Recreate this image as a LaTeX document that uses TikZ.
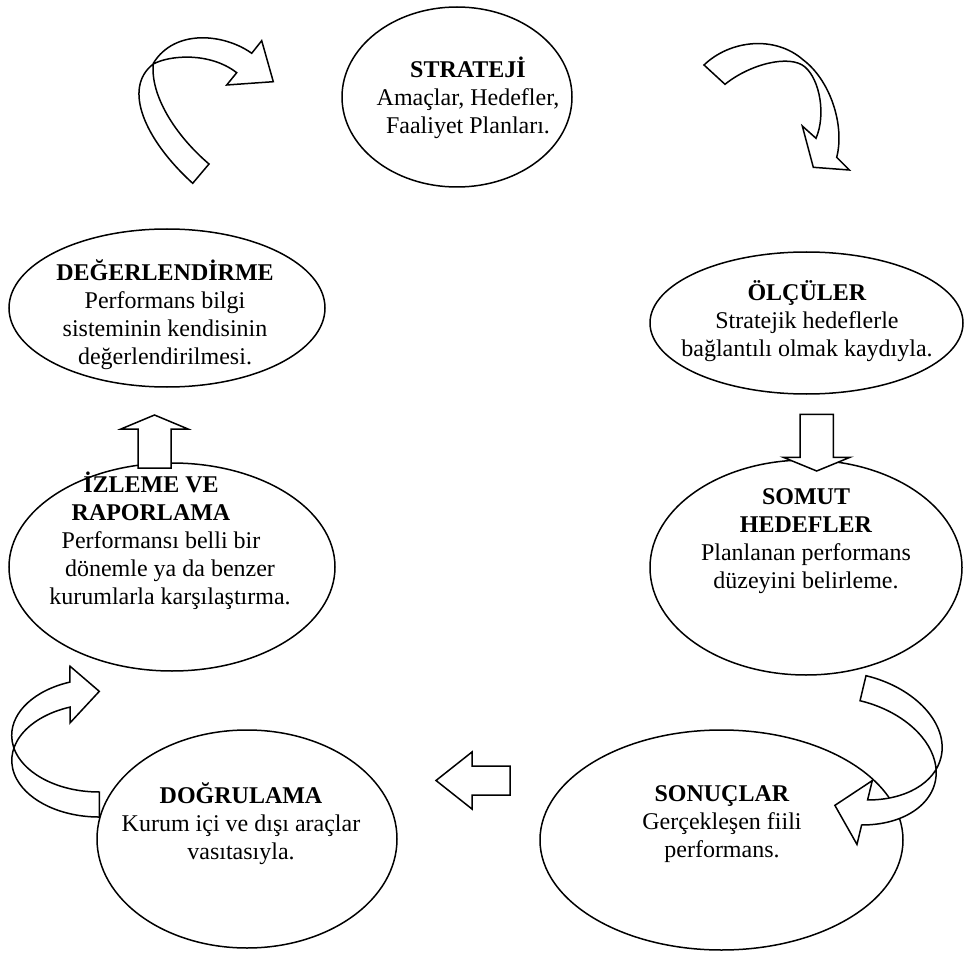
\documentclass[tikz,border=0pt]{standalone}
\usepackage{fontspec}
\setmainfont{Liberation Serif}
\usetikzlibrary{shapes.geometric}
\begin{document}
\begin{tikzpicture}[x=1pt,y=-1pt,
  oval/.style={draw, ellipse, line width=1.5pt, inner sep=0pt},
  txt/.style={align=center, font=\fontsize{24}{28}\selectfont, inner sep=0pt},
  blockarrow/.style={draw, fill=white, line width=1.5pt, line join=miter}]
\useasboundingbox (0,0) rectangle (975,960);

% the seven stages of the cycle
\node[oval, minimum width=230pt, minimum height=180pt] (strat) at (457,97) {};
\node[oval, minimum width=313pt, minimum height=142pt] (olcu) at (806.5,323) {};
\node[oval, minimum width=312pt, minimum height=215pt] (somut) at (806,567.5) {};
\node[oval, minimum width=363pt, minimum height=220pt] (sonuc) at (721.5,840) {};
\node[oval, minimum width=300pt, minimum height=218pt] (dogru) at (247,839) {};
\node[oval, minimum width=326pt, minimum height=208pt] (izle) at (172,567) {};
\node[oval, minimum width=316pt, minimum height=158pt] (deger) at (167,308) {};

\node[txt] (strat-t) at (468,98) {\textbf{STRATEJİ}\\Amaçlar, Hedefler,\\Faaliyet Planları.};
\node[txt] (olcu-t) at (807,321) {\textbf{ÖLÇÜLER}\\Stratejik hedeflerle\\bağlantılı olmak kaydıyla.};
\node[txt] (somut-t) at (806,541) {\textbf{SOMUT}\\\textbf{HEDEFLER}\\Planlanan performans\\düzeyini belirleme.};
\node[txt] (sonuc-t) at (722,824) {\textbf{SONUÇLAR}\\Gerçekleşen fiili\\performans.};
\node[txt] (dogru-t) at (241,824) {\textbf{DOĞRULAMA}\\Kurum içi ve dışı araçlar\\vasıtasıyla.};
\node[txt] (izle-t) at (170,541) {\textbf{İZLEME VE}\kern38pt\\\textbf{RAPORLAMA}\kern38pt\\Performansı belli bir\kern18pt\\dönemle ya da benzer\\kurumlarla karşılaştırma.};
\node[txt] (deger-t) at (165,315) {\textbf{DEĞERLENDİRME}\\Performans bilgi\\sisteminin kendisinin\\değerlendirilmesi.};

% straight block arrows
\draw[blockarrow] (800,414.3) -- (833.3,414.3) -- (833.3,457.3) -- (850,457.3)
  -- (816.7,471) -- (783.3,457.3) -- (800,457.3) -- cycle;
\draw[blockarrow] (510,766) -- (510,795) -- (472,795) -- (472,809)
  -- (436,780.5) -- (472,752) -- (472,766) -- cycle;
\draw[blockarrow] (138,468) -- (138,429) -- (121,429) -- (154.5,415)
  -- (188,429) -- (171,429) -- (171,468) -- cycle;

% curved block arrows
\draw[blockarrow] (192.7,183.3) .. controls (145,140) and (122,88) .. (153.3,64)
  .. controls (170,55) and (210,52) .. (236.7,72.7)
  -- (226.7,85) -- (273.3,81.7) -- (261.7,40.7) -- (251.7,53.3)
  .. controls (225,34) and (175,28) .. (153.3,63.3)
  .. controls (150,95) and (175,135) .. (209,164) -- cycle;

\draw[blockarrow] (704,65) .. controls (730,40) and (775,35) .. (803.3,60)
  .. controls (830,80) and (845,125) .. (836.7,157.3)
  -- (849.3,170) -- (813.3,167.3) -- (802.3,126) -- (816,138.3)
  .. controls (826,115) and (820,80) .. (805,67)
  .. controls (790,54) and (750,64) .. (725,84.3) -- cycle;

% curved arrow from SOMUT HEDEFLER down to SONUCLAR (slightly tilted)
\begin{scope}[shift={(866,675.7)}, rotate=-13.5]
\draw[blockarrow] (0,0) arc[start angle=-90, end angle=70.6, x radius=92, y radius=62]
  -- (30.6,100.55) -- (0,133.35) -- (30.6,166.15) -- (30.6,146.2)
  arc[start angle=70.6, end angle=-90, x radius=92, y radius=62] -- cycle;
\end{scope}

% curved arrow from DOGRULAMA up to IZLEME VE RAPORLAMA
\draw[blockarrow] (70,707.1) arc[start angle=250.4, end angle=90, x radius=87.6, y radius=56.6]
  -- (99.3,792) arc[start angle=90, end angle=250.4, x radius=87.6, y radius=56.6]
  -- (70,666.2) -- (99.3,691.35) -- (70,722.9) -- cycle;
\end{tikzpicture}
\end{document}
